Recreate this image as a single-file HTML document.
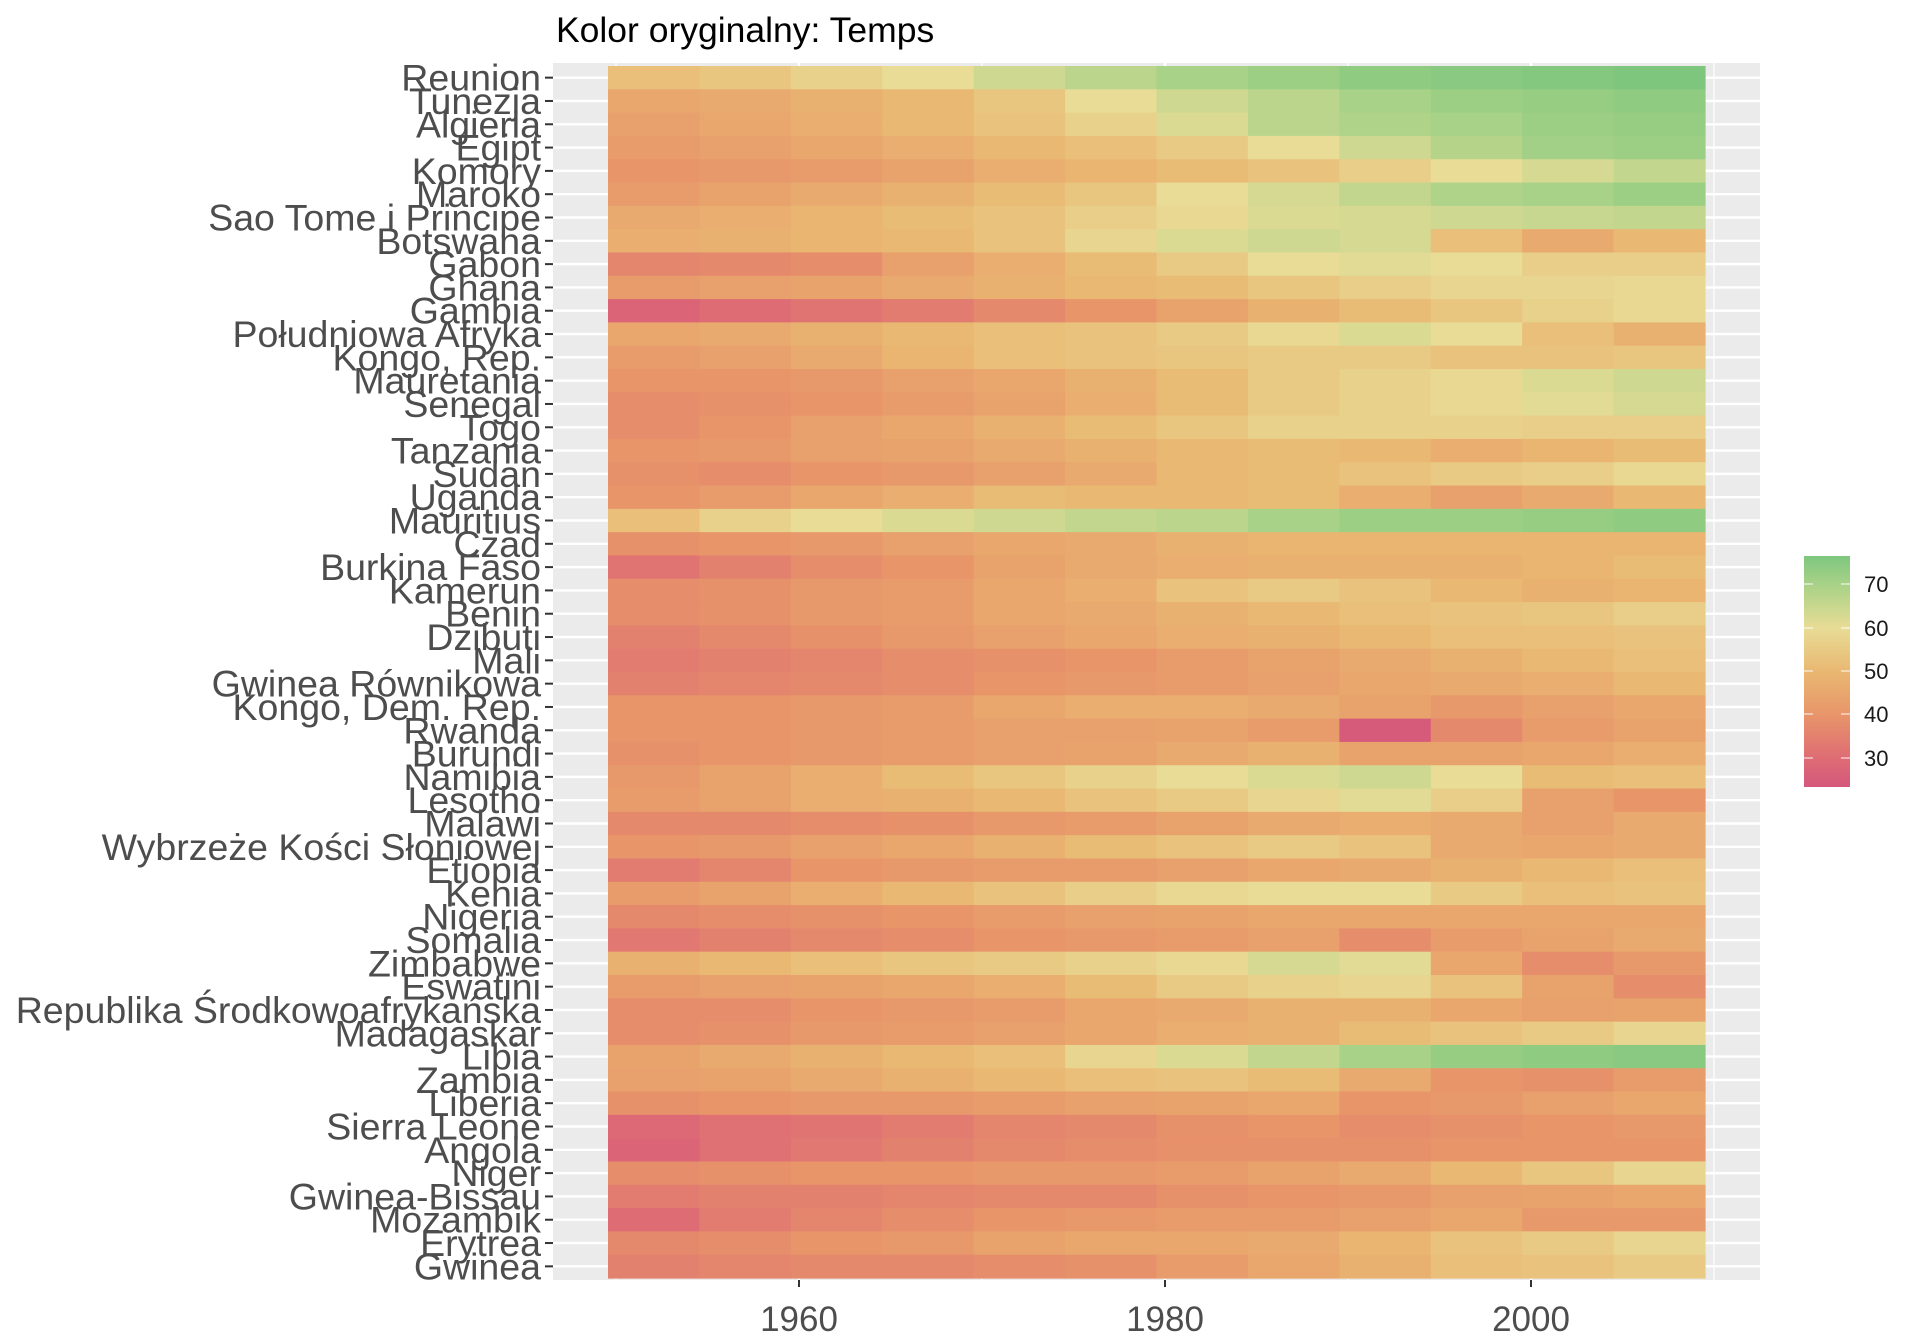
<!DOCTYPE html>
<html><head><meta charset="utf-8"><style>
html,body{margin:0;padding:0;background:#fff;}
svg{display:block;font-family:"Liberation Sans",Arial,sans-serif;}
</style></head><body>
<svg id="s" width="1920" height="1344" viewBox="0 0 1920 1344" xmlns="http://www.w3.org/2000/svg">
<rect x="0" y="0" width="1920" height="1344" fill="#fff"/>
<text x="556" y="42" font-size="35.5" fill="#000">Kolor oryginalny: Temps</text>
<rect x="553" y="63" width="1207" height="1217" fill="#ebebeb"/>
<g id="grid"></g>
<g id="tiles"></g>
<g id="labels"></g>
<defs><linearGradient id="lg" x1="0" y1="1" x2="0" y2="0">
<stop offset="0" stop-color="#d4587c"/>
<stop offset="0.124" stop-color="#de6c74"/>
<stop offset="0.312" stop-color="#e8956a"/>
<stop offset="0.5" stop-color="#e9b872"/>
<stop offset="0.688" stop-color="#e8dc96"/>
<stop offset="0.876" stop-color="#a8d287"/>
<stop offset="1" stop-color="#7ec67e"/>
</linearGradient></defs>
<rect x="1804" y="556" width="46" height="231" fill="url(#lg)"/>
<g stroke="#fff" stroke-width="1.2" opacity="0.8">
<line x1="1804" y1="584" x2="1813" y2="584"/><line x1="1841" y1="584" x2="1850" y2="584"/>
<line x1="1804" y1="628" x2="1813" y2="628"/><line x1="1841" y1="628" x2="1850" y2="628"/>
<line x1="1804" y1="671" x2="1813" y2="671"/><line x1="1841" y1="671" x2="1850" y2="671"/>
<line x1="1804" y1="714" x2="1813" y2="714"/><line x1="1841" y1="714" x2="1850" y2="714"/>
<line x1="1804" y1="758" x2="1813" y2="758"/><line x1="1841" y1="758" x2="1850" y2="758"/>
</g>
<g font-size="22" fill="#1a1a1a">
<text x="1864" y="592">70</text><text x="1864" y="636">60</text><text x="1864" y="679">50</text><text x="1864" y="722">40</text><text x="1864" y="766">30</text>
</g>
<g stroke="#333" stroke-width="2">
<line x1="799" y1="1280" x2="799" y2="1287"/><line x1="1165" y1="1280" x2="1165" y2="1287"/><line x1="1531" y1="1280" x2="1531" y2="1287"/>
</g>
<g font-size="35" fill="#4d4d4d" text-anchor="middle">
<text x="799" y="1331">1960</text><text x="1165" y="1331">1980</text><text x="1531" y="1331">2000</text>
</g>
</svg>
<script>
(function(){
var names=["Reunion","Tunezja","Algieria","Egipt","Komory","Maroko","Sao Tome i Principe","Botswana","Gabon","Ghana","Gambia","Południowa Afryka","Kongo, Rep.","Mauretania","Senegal","Togo","Tanzania","Sudan","Uganda","Mauritius","Czad","Burkina Faso","Kamerun","Benin","Dzibuti","Mali","Gwinea Równikowa","Kongo, Dem. Rep.","Rwanda","Burundi","Namibia","Lesotho","Malawi","Wybrzeże Kości Słoniowej","Etiopia","Kenia","Nigeria","Somalia","Zimbabwe","Eswatini","Republika Środkowoafrykańska","Madagaskar","Libia","Zambia","Liberia","Sierra Leone","Angola","Niger","Gwinea-Bissau","Mozambik","Erytrea","Gwinea"];
var d=[
[52,54,57,60,64,67,70,72,74,75,76,77],
[45,46,48,50,54,60,64,67,70,72,73,74],
[43,45,47,50,53,57,62,67,69,70,72,73],
[42,43,45,47,50,52,55,60,64,68,71,72],
[40,41,42,44,47,49,51,53,56,60,63,66],
[42,44,46,48,51,54,60,63,66,69,70,72],
[46,47,49,51,53,56,59,62,63,64,65,66],
[47,48,49,50,53,58,62,64,63,52,46,50],
[36,37,38,43,47,51,55,60,61,60,56,56],
[42,43,44,46,48,50,51,54,56,58,58,59],
[28,30,32,34,37,40,44,48,51,54,57,59],
[45,46,48,50,52,53,55,59,62,60,52,48],
[42,43,46,49,52,53,54,55,55,53,53,54],
[40,40,41,43,45,48,51,55,57,59,62,64],
[38,39,40,42,44,47,51,55,57,59,61,63],
[38,40,43,45,48,51,54,57,57,57,56,56],
[40,41,43,44,46,48,50,51,50,47,49,51],
[39,38,40,41,43,46,50,51,53,55,56,59],
[40,42,45,47,51,50,50,51,47,43,46,50],
[52,57,60,62,64,66,67,70,72,72,73,74],
[39,40,41,43,45,46,48,49,49,49,49,49],
[32,35,38,40,44,46,47,48,48,48,49,51],
[38,39,41,42,45,47,53,55,53,50,48,49],
[38,39,41,42,45,46,48,50,52,53,54,56],
[35,37,39,41,43,45,47,48,50,52,52,53],
[34,35,36,38,39,40,42,44,46,48,50,52],
[35,36,37,38,40,41,42,43,45,46,47,50],
[40,40,41,42,45,47,47,46,44,41,43,45],
[40,40,41,42,43,43,44,42,25,37,42,44],
[39,40,41,42,43,44,46,48,44,44,45,47],
[41,44,47,51,54,57,60,62,64,60,51,52],
[42,44,47,48,50,53,55,58,61,56,43,40],
[37,37,38,39,41,42,44,46,47,46,43,46],
[40,41,43,45,48,51,53,55,53,46,45,46],
[34,36,40,41,42,42,43,45,46,48,50,52],
[42,44,47,50,53,56,59,60,60,55,52,53],
[37,38,39,40,42,43,44,45,45,45,45,45],
[33,35,37,38,40,41,42,43,38,42,44,46],
[48,50,52,54,55,57,59,63,61,45,38,41],
[42,43,44,45,47,51,55,57,58,53,44,38],
[38,38,40,41,42,45,46,48,48,45,43,44],
[38,39,41,42,43,45,47,48,51,53,55,58],
[44,46,48,50,52,58,62,66,70,73,74,75],
[43,44,46,48,50,52,53,51,46,40,39,42],
[39,40,41,41,42,43,44,45,40,41,43,45],
[29,31,32,34,36,37,39,40,38,39,40,41],
[28,31,33,35,37,38,39,39,39,40,40,40],
[38,39,40,40,41,41,42,44,46,50,54,58],
[34,35,35,36,37,37,39,40,41,43,44,45],
[30,34,36,38,40,41,42,42,43,45,41,41],
[37,38,40,41,44,45,45,46,49,53,55,58],
[35,36,37,37,38,39,42,45,48,52,53,55]];
var st=[[24,[212,88,124]],[30,[222,108,116]],[40,[232,149,106]],[50,[233,184,114]],[60,[232,220,150]],[70,[168,210,135]],[77,[126,198,126]]];
function col(v){if(v<=st[0][0])return st[0][1];for(var i=1;i<st.length;i++){if(v<=st[i][0]){var a=st[i-1],b=st[i],t=(v-a[0])/(b[0]-a[0]);return a[1].map(function(c,k){return Math.round(c+(b[1][k]-c)*t);});}}return st[st.length-1][1];}
var NS="http://www.w3.org/2000/svg";
function el(p,tag,at,txt){var e=document.createElementNS(NS,tag);for(var k in at)e.setAttribute(k,at[k]);if(txt)e.textContent=txt;p.appendChild(e);return e;}
var y0=66,y1=1278,rh=(y1-y0)/52,x0=608,cw=(1705-608)/12,r,c,y;
var g=document.getElementById("grid");
[616,982,1348,1714].forEach(function(x){el(g,"line",{x1:x,y1:63,x2:x,y2:1280,stroke:"#fff","stroke-width":1.2});});
[799,1165,1531].forEach(function(x){el(g,"line",{x1:x,y1:63,x2:x,y2:1280,stroke:"#fff","stroke-width":2.4});});
for(r=0;r<52;r++){y=y0+rh*(r+0.5);el(g,"line",{x1:553,y1:y,x2:1760,y2:y,stroke:"#fff","stroke-width":2.4});}
var tg=document.getElementById("tiles");
for(r=0;r<52;r++)for(c=0;c<12;c++){var k=col(d[r][c]);el(tg,"rect",{x:(x0+c*cw).toFixed(2),y:(y0+r*rh).toFixed(2),width:(cw+0.6).toFixed(2),height:(rh+0.6).toFixed(2),fill:"rgb("+k.join(",")+")"});}
var lg=document.getElementById("labels");
for(r=0;r<52;r++){y=y0+rh*(r+0.5);el(lg,"line",{x1:545,y1:y,x2:553,y2:y,stroke:"#333","stroke-width":2});el(lg,"text",{x:541,y:(y+13).toFixed(1),"font-size":37.5,fill:"#4d4d4d","text-anchor":"end"},names[r]);}
})();
</script>
</body></html>
